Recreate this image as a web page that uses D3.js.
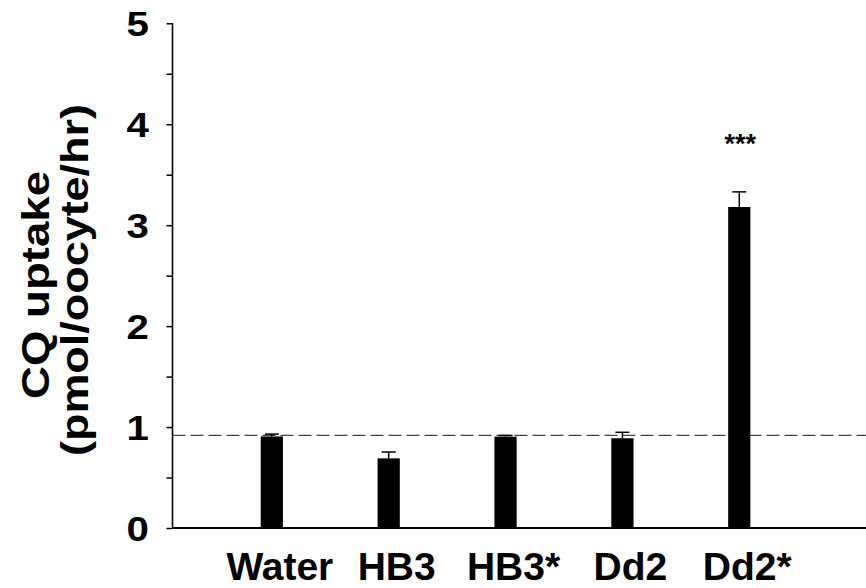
<!DOCTYPE html>
<html><head><meta charset="utf-8">
<script src="https://cdn.jsdelivr.net/npm/d3@7"></script>
<style>body{margin:0;background:#fff}</style>
</head><body>
<svg id="c" width="866" height="588"></svg>
<script>
const categories = ["Water", "HB3", "HB3*", "Dd2", "Dd2*"];
const values = [0.907, 0.69, 0.905, 0.889, 3.18];
const errors = [0.023, 0.063, 0.012, 0.059, 0.15];
const annotations = ["", "", "", "", "***"];
const yTicks = [0, 1, 2, 3, 4, 5];
const yMinorTicks = [0.5, 1.5, 2.5, 3.5, 4.5];
const reference = 0.917;
const yTitle = ["CQ uptake", "(pmol/oocyte/hr)"];

const svg = d3.select("#c");
const font = "Arial, 'Liberation Sans', Helvetica, sans-serif";
const axisX = 172.5, right = 866;
const y = d3.scaleLinear().domain([0, 5]).range([528, 23.3]);
const x = d3.scaleBand().domain(categories).range([213.4, 797.7]).paddingInner(0.81).paddingOuter(0.405);

// reference dashed line
svg.append("line").attr("x1", axisX).attr("x2", right)
  .attr("y1", y(reference)).attr("y2", y(reference))
  .attr("stroke", "#444").attr("stroke-width", 1.3).attr("stroke-dasharray", "13,5");

// bars
svg.selectAll("rect.bar").data(categories).join("rect")
  .attr("x", d => x(d)).attr("width", x.bandwidth())
  .attr("y", (d, i) => y(values[i])).attr("height", (d, i) => y(0) - y(values[i]))
  .attr("fill", "#000");

// error bars
const eb = svg.append("g").attr("stroke", "#000").attr("stroke-width", 1.5);
categories.forEach((d, i) => {
  const cx = x(d) + x.bandwidth() / 2;
  eb.append("line").attr("x1", cx).attr("x2", cx).attr("y1", y(values[i])).attr("y2", y(values[i] + errors[i]));
  eb.append("line").attr("x1", cx - 7).attr("x2", cx + 7).attr("y1", y(values[i] + errors[i])).attr("y2", y(values[i] + errors[i]));
});

// annotations
svg.selectAll("text.ann").data(categories).join("text")
  .attr("x", d => x(d) + x.bandwidth() / 2 + 1)
  .attr("y", 153)
  .attr("text-anchor", "middle").attr("font-family", font).attr("font-weight", "bold").attr("font-size", 27)
  .text((d, i) => annotations[i]);

// y axis
const yAxis = d3.axisLeft(y).tickValues(yTicks).tickSize(6).tickPadding(0).tickFormat(d3.format("d"));
const gy = svg.append("g").attr("transform", `translate(${axisX},0)`).call(yAxis);
gy.select(".domain").attr("stroke-width", 1.6).attr("d", `M0,${y(5)}V${y(0)}`);
gy.selectAll(".tick line").attr("stroke-width", 1.5);
gy.selectAll(".tick text").attr("font-family", font).attr("font-weight", "bold").attr("font-size", 35).attr("fill", "#000")
  .attr("x", null).attr("dy", "0.36em").attr("transform", "translate(-23.5,0) scale(1.15,1)");
const gyMinor = svg.append("g").attr("transform", `translate(${axisX},0)`)
  .call(d3.axisLeft(y).tickValues(yMinorTicks).tickSize(6).tickFormat(""));
gyMinor.select(".domain").remove();
gyMinor.selectAll(".tick line").attr("stroke-width", 1.5);

// x axis
const xAxis = d3.axisBottom(x).tickSize(0).tickPadding(0);
const gx = svg.append("g").attr("transform", `translate(0,${y(0)})`).call(xAxis);
gx.select(".domain").attr("d", `M${axisX},0H${right}`).attr("stroke-width", 2);
gx.selectAll(".tick text").attr("font-family", font).attr("font-weight", "bold").attr("font-size", 39).attr("fill", "#000")
  .attr("y", 52).attr("dy", 0).attr("dx", 8);

// y title
const t = svg.append("g").attr("transform", "rotate(-90)").attr("font-family", font).attr("font-weight", "bold").attr("font-size", 38);
t.append("text").attr("x", -285).attr("y", 49).attr("text-anchor", "middle")
  .attr("textLength", 228).attr("lengthAdjust", "spacingAndGlyphs").text(yTitle[0]);
t.append("text").attr("x", -280).attr("y", 88).attr("text-anchor", "middle")
  .attr("textLength", 352).attr("lengthAdjust", "spacingAndGlyphs").text(yTitle[1]);
</script>
</body></html>
